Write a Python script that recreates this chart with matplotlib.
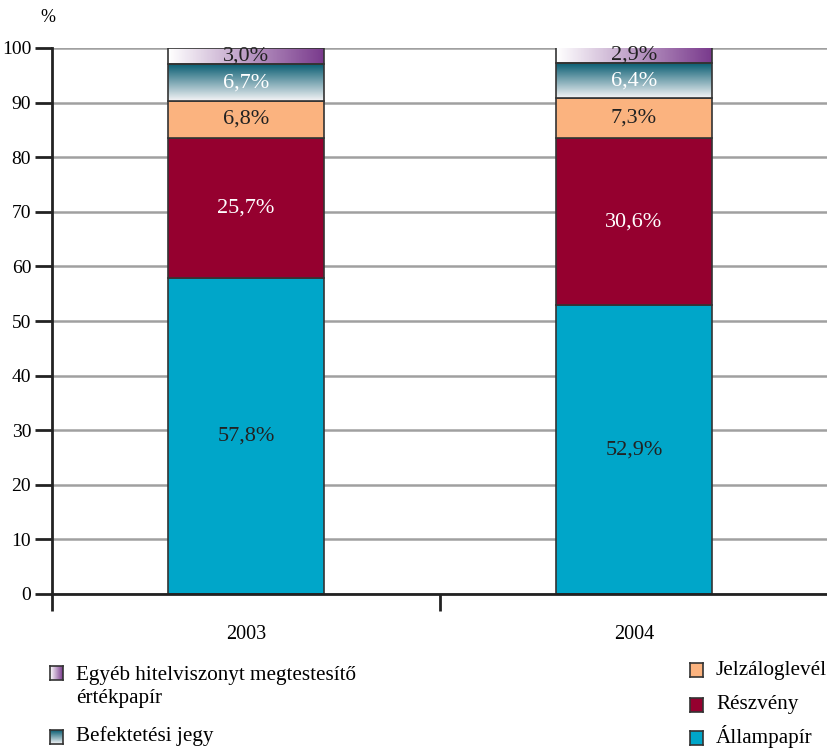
import numpy as np
import matplotlib
matplotlib.use("Agg")
import matplotlib.pyplot as plt
from matplotlib.colors import LinearSegmentedColormap

plt.rcParams['font.family'] = ['Liberation Serif', 'DejaVu Serif']

years = ["2003", "2004"]
allampapir = [57.8, 52.9]
reszveny = [25.7, 30.6]
jelzalog = [6.8, 7.3]
befektetesi = [6.7, 6.4]
egyeb = [3.0, 2.9]

series = [
    ("Állampapír", allampapir),
    ("Részvény", reszveny),
    ("Jelzáloglevél", jelzalog),
    ("Befektetési jegy", befektetesi),
    ("Egyéb hitelviszonyt megtestesítő\nértékpapír", egyeb),
]

C_ALLAM = "#00a6c9"
C_RESZ = "#95002f"
C_JELZ = "#fbb37f"
cm_befekt = LinearSegmentedColormap.from_list("bef", ["#f4f4f6", "#0b5e73"])
cm_egyeb = LinearSegmentedColormap.from_list("egy", ["#ffffff", "#7a3b8d"])
edge = "#333333"

fig = plt.figure(figsize=(8.28, 7.48), dpi=100)
ax = fig.add_axes([52 / 828, 154 / 748, 776 / 828, 546 / 748])

x = np.arange(len(years))
w = 0.4

ax.set_axisbelow(True)
ax.yaxis.grid(True, color="#a0a0a0", lw=1.8)

bottom = np.zeros(len(years))
text_colors = ["#222222", "white", "#222222", "white", "#222222"]
for i, (name, vals) in enumerate(series):
    vals = np.array(vals)
    if i < 3:
        col = [C_ALLAM, C_RESZ, C_JELZ][i]
        ax.bar(x, vals, w, bottom=bottom, color=col, edgecolor=edge, lw=1.2, zorder=2)
    else:
        for j in range(len(years)):
            x0, x1 = x[j] - w / 2, x[j] + w / 2
            y0, y1 = bottom[j], bottom[j] + vals[j]
            if i == 3:
                grad = np.linspace(0, 1, 100).reshape(-1, 1)
                ax.imshow(grad, cmap=cm_befekt, origin="lower", aspect="auto",
                          extent=(x0, x1, y0, y1), zorder=2)
            else:
                grad = np.linspace(0, 1, 100).reshape(1, -1)
                ax.imshow(grad, cmap=cm_egyeb, origin="lower", aspect="auto",
                          extent=(x0, x1, y0, y1), zorder=2)
        ax.bar(x, vals, w, bottom=bottom, facecolor="none", edgecolor=edge, lw=1.2, zorder=3)
    for j in range(len(years)):
        ax.text(x[j], bottom[j] + vals[j] / 2, f"{vals[j]:.1f}%".replace(".", ","),
                ha="center", va="center", fontsize=16, color=text_colors[i], zorder=4)
    bottom += vals

ax.set_xlim(-0.5, 1.5)
ax.set_ylim(0, 100)
ax.set_yticks(range(0, 101, 10))
ax.tick_params(axis="y", labelsize=14, length=12, width=2, color="#222222", pad=3)
ax.set_xticks([-0.5, 0.5, 1.5])
ax.set_xticklabels([])
ax.set_xticks(x, minor=True)
ax.set_xticklabels(years, minor=True)
ax.tick_params(axis="x", which="major", length=12, width=2, color="#222222")
ax.tick_params(axis="x", which="minor", length=0, labelsize=14.5, pad=22)
for s in ["top", "right"]:
    ax.spines[s].set_visible(False)
ax.spines["left"].set_linewidth(2)
ax.spines["bottom"].set_linewidth(2)
ax.spines["left"].set_color("#222222")
ax.spines["bottom"].set_color("#222222")

fig.text(48 / 828, 1 - 17 / 748, "%", fontsize=13, ha="center", va="center")

# legend
def marker(px, py, kind):
    mx = fig.add_axes([px / 828, 1 - (py + 7) / 748, 13 / 828, 14 / 748])
    if kind == "egy":
        mx.imshow(np.linspace(0, 1, 50).reshape(1, -1), cmap=cm_egyeb, aspect="auto")
    elif kind == "bef":
        mx.imshow(np.linspace(0, 1, 50).reshape(-1, 1), cmap=cm_befekt, aspect="auto", origin="lower")
    else:
        mx.set_facecolor(kind)
    mx.set_xticks([])
    mx.set_yticks([])
    for s in mx.spines.values():
        s.set_color(edge)
        s.set_linewidth(1.2)

legend_items = [
    (50, 673, "egy", series[4][0], 687),
    (50, 737, "bef", series[3][0], 736),
    (690, 670, C_JELZ, series[2][0], 670),
    (690, 705, C_RESZ, series[1][0], 705),
    (690, 738, C_ALLAM, series[0][0], 737),
]
for px, py, kind, label, ty in legend_items:
    marker(px, py, kind)
    fig.text((px + 26) / 828, 1 - ty / 748, label, fontsize=15.2, va="center", ha="left",
             linespacing=1.35)

fig.savefig("out.png", dpi=100)
